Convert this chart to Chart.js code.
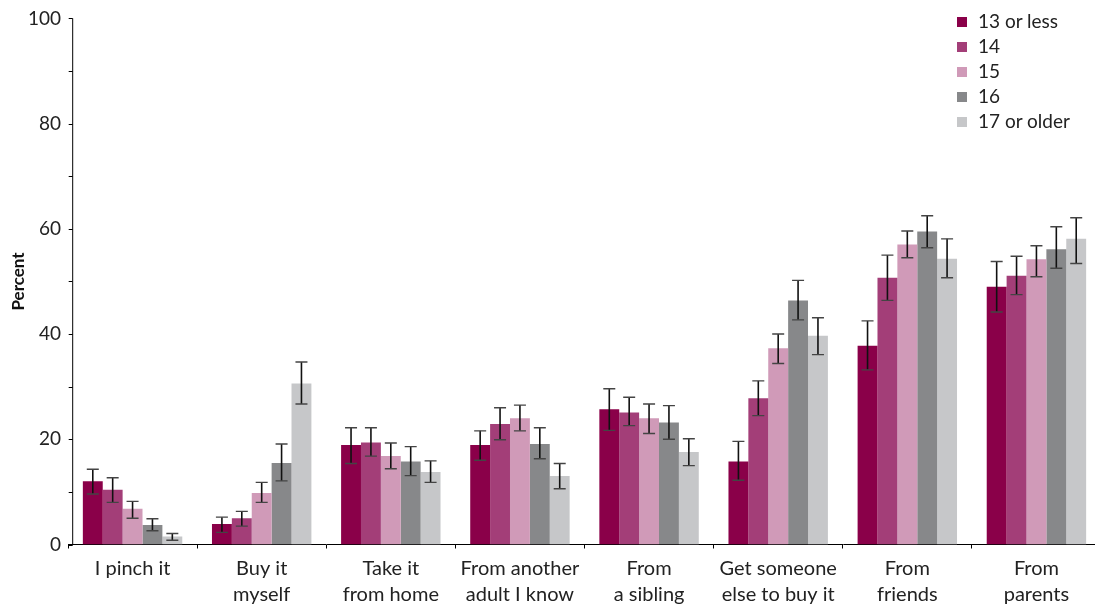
<!DOCTYPE html>
<html>
<head>
<meta charset="utf-8">
<script src="https://cdn.jsdelivr.net/npm/chart.js"></script>
<style>
  html, body { margin: 0; padding: 0; background: #fff; overflow: hidden; }
  #wrap { position: relative; width: 1101px; height: 606px; }
  #legend { position: absolute; left: 957px; top: 8px; font-family: 'Lato', sans-serif; font-size: 19px; color: #222; }
  #legend div { height: 25px; line-height: 25px; white-space: nowrap; }
  #legend span { display: inline-block; width: 10px; height: 10px; margin-right: 11px; vertical-align: 1px; }
</style>
</head>
<body>
<div id="wrap">
  <canvas id="c" width="1101" height="606"></canvas>
  <div id="legend"></div>
</div>
<script>
"use strict";

const categories = [
  ['I pinch it'], ['Buy it', 'myself'], ['Take it', 'from home'], ['From another', 'adult I know'],
  ['From', 'a sibling'], ['Get someone', 'else to buy it'], ['From', 'friends'], ['From', 'parents']
];
const seriesNames = ['13 or less', '14', '15', '16', '17 or older'];
const seriesColors = ['#8a0049', '#a33e78', '#d09ab8', '#87888a', '#c6c7c9'];

// percent values per age group
const age13 = [12.0, 3.9, 18.9, 18.9, 25.7, 15.8, 37.8, 49.0];
const age14 = [10.4, 5.0, 19.4, 22.9, 25.1, 27.8, 50.7, 51.1];
const age15 = [6.8, 9.8, 16.8, 24.0, 24.0, 37.3, 57.0, 54.2];
const age16 = [3.7, 15.5, 15.8, 19.1, 23.2, 46.4, 59.5, 56.1];
const age17 = [1.5, 30.6, 13.8, 13.0, 17.6, 39.7, 54.3, 58.1];

// error bar bounds
const lo13 = [9.6, 2.3, 15.4, 16.0, 21.7, 12.2, 33.2, 44.2];
const hi13 = [14.3, 5.2, 22.2, 21.6, 29.6, 19.6, 42.5, 53.8];
const lo14 = [8.0, 3.5, 16.8, 19.9, 22.6, 24.5, 46.4, 47.5];
const hi14 = [12.7, 6.3, 22.2, 26.0, 28.0, 31.1, 55.0, 54.8];
const lo15 = [5.0, 8.0, 14.4, 21.6, 21.1, 34.4, 54.5, 50.9];
const hi15 = [8.2, 11.8, 19.3, 26.5, 26.7, 40.0, 59.6, 56.8];
const lo16 = [2.6, 12.1, 13.1, 16.3, 20.0, 42.7, 56.4, 52.5];
const hi16 = [4.9, 19.1, 18.6, 22.2, 26.4, 50.2, 62.5, 60.4];
const lo17 = [0.8, 26.7, 11.8, 10.6, 15.0, 36.1, 50.7, 53.4];
const hi17 = [2.1, 34.7, 15.9, 15.4, 20.1, 43.1, 58.1, 62.1];

const yTicks = [0, 20, 40, 60, 80, 100];

const values = [age13, age14, age15, age16, age17];
const lows = [lo13, lo14, lo15, lo16, lo17];
const highs = [hi13, hi14, hi15, hi16, hi17];

const FONT = "'Lato', sans-serif";

const errorBars = {
  id: 'errorBars',
  afterDatasetsDraw(chart) {
    const ctx = chart.ctx;
    const y = chart.scales.y;
    ctx.save();
    chart.data.datasets.forEach((ds, i) => {
      const meta = chart.getDatasetMeta(i);
      meta.data.forEach((bar, j) => {
        const yl = y.getPixelForValue(lows[i][j]);
        const yh = y.getPixelForValue(highs[i][j]);
        const x = bar.x;
        ctx.strokeStyle = '#111';
        ctx.lineWidth = 1.6;
        ctx.beginPath();
        ctx.moveTo(x, yh);
        ctx.lineTo(x, yl);
        ctx.stroke();
        ctx.strokeStyle = '#444';
        ctx.lineWidth = 1.4;
        ctx.beginPath();
        ctx.moveTo(x - 6, yh); ctx.lineTo(x + 6, yh);
        ctx.moveTo(x - 6, yl); ctx.lineTo(x + 6, yl);
        ctx.stroke();
      });
    });
    ctx.restore();
  }
};

// the y axis line sits a few px right of where the first category starts
const yAxisLine = {
  id: 'yAxisLine',
  afterDraw(chart) {
    const ctx = chart.ctx;
    const y = chart.scales.y;
    const x0 = chart.chartArea.left + 4.7;
    ctx.save();
    ctx.strokeStyle = '#000';
    ctx.lineWidth = 1;
    ctx.beginPath();
    ctx.moveTo(x0, y.getPixelForValue(100));
    ctx.lineTo(x0, y.getPixelForValue(0));
    y.ticks.forEach(t => {
      const py = Math.round(y.getPixelForValue(t.value)) + 0.5;
      ctx.moveTo(x0 - 4, py);
      ctx.lineTo(x0, py);
    });
    ctx.stroke();
    ctx.restore();
  }
};

new Chart(document.getElementById('c'), {
  type: 'bar',
  data: {
    labels: categories,
    datasets: seriesNames.map((n, i) => ({
      label: n,
      data: values[i],
      backgroundColor: seriesColors[i],
      borderWidth: 0,
      categoryPercentage: 0.77,
      barPercentage: 1.0
    }))
  },
  options: {
    responsive: false,
    animation: false,
    layout: { padding: { top: 17, right: 0, left: 0, bottom: 0 } },
    plugins: { legend: { display: false }, tooltip: { enabled: false } },
    scales: {
      x: {
        grid: { drawOnChartArea: false, drawTicks: true, tickLength: 4, color: '#000', offset: true },
        border: { display: true, color: '#000', width: 1 },
        ticks: { color: '#222', font: { family: FONT, size: 20, lineHeight: 1.3 }, padding: 7, maxRotation: 0, autoSkip: false },
        afterFit(s) { s.height = 61.5; }
      },
      y: {
        min: 0, max: 100,
        grid: { display: false, drawTicks: false },
        border: { display: false },
        ticks: {
          stepSize: 10, color: '#222', padding: 7,
          font: { family: FONT, size: 19 },
          callback: v => yTicks.includes(v) ? String(v) : ''
        },
        title: { display: true, text: 'Percent', color: '#111', font: { family: FONT, size: 17, weight: 'bold' }, padding: { top: 8, bottom: 0 } },
        afterFit(s) { s.width = 68; }
      }
    }
  },
  plugins: [errorBars, yAxisLine]
});

const legend = document.getElementById('legend');
seriesNames.forEach((n, i) => {
  const row = document.createElement('div');
  const sw = document.createElement('span');
  sw.style.background = seriesColors[i];
  row.appendChild(sw);
  row.appendChild(document.createTextNode(n));
  legend.appendChild(row);
});
</script>
</body>
</html>
